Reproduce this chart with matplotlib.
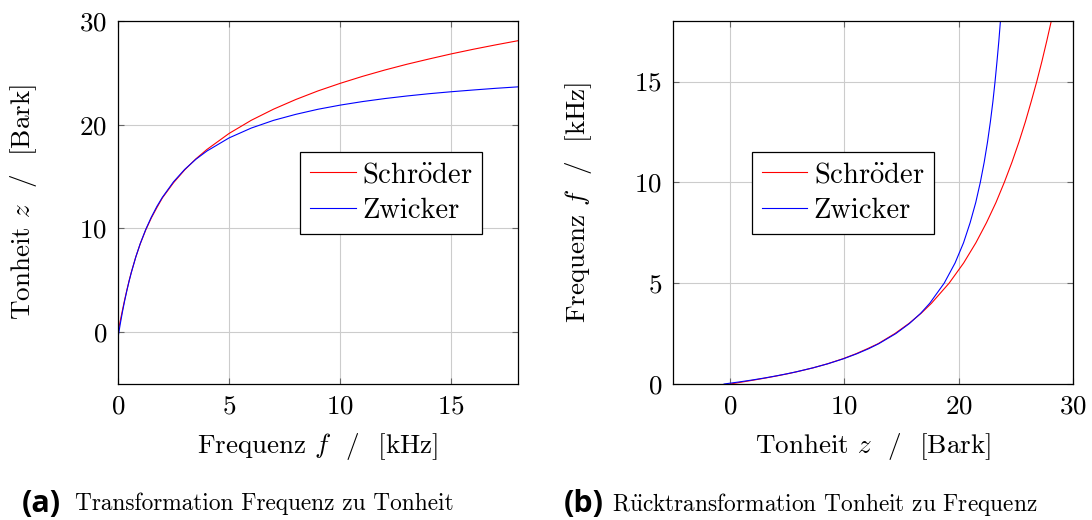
import matplotlib
matplotlib.use("Agg")
import matplotlib.pyplot as plt

# Frequenz f in kHz and the matching Tonheit z in Bark for both scales
freq_khz = [0, 0.1, 0.2, 0.3, 0.4, 0.5, 0.6, 0.8, 1.0, 1.25, 1.5, 1.75, 2, 2.5, 3,
            3.5, 4, 5, 6, 7, 8, 9, 10, 11, 12, 13, 14, 15, 16, 17, 18]
z_schroeder = [0.00, 1.07, 2.12, 3.13, 4.07, 4.96, 5.78, 7.25, 8.51, 9.86, 11.01,
               12.01, 12.95, 14.41, 15.64, 16.70, 17.61, 19.16, 20.43, 21.50, 22.43,
               23.26, 23.99, 24.66, 25.27, 25.83, 26.34, 26.83, 27.28, 27.70, 28.10]
z_zwicker = [-0.53, 0.77, 1.95, 3.03, 4.01, 4.92, 5.75, 7.24, 8.53, 9.91, 11.09,
             12.12, 13.01, 14.50, 15.69, 16.66, 17.46, 18.73, 19.68, 20.42, 21.00,
             21.49, 21.89, 22.23, 22.52, 22.77, 22.99, 23.18, 23.35, 23.51, 23.65]

series_names = [r"Schr$\ddot{\mathrm{o}}$der", "Zwicker"]
series_colors = ["#ff0000", "#0000ff"]

left_xticks = [0, 5, 10, 15]
left_yticks = [0, 10, 20, 30]
right_xticks = [0, 10, 20, 30]
right_yticks = [0, 5, 10, 15]

FS = 19.5
LEG_FS = 20.5

plt.rcParams.update({
    "font.family": ["cmr10", "DejaVu Serif"],
    "mathtext.fontset": "cm",
    "axes.formatter.use_mathtext": True,
    "axes.unicode_minus": False,
    "font.size": FS,
})

fig = plt.figure(figsize=(10.92, 5.2), dpi=100)
ax1 = fig.add_axes([118 / 1092, 136 / 520, 400 / 1092, 363 / 520])
ax2 = fig.add_axes([673 / 1092, 136 / 520, 400 / 1092, 363 / 520])


def style_axes(ax, ylab_x):
    ax.grid(True, color="#cccccc", linewidth=0.8)
    ax.set_axisbelow(True)
    for sp in ax.spines.values():
        sp.set_linewidth(0.9)
        sp.set_color("black")
    ax.tick_params(direction="in", length=4.5, width=0.8, color="#666666",
                   top=True, right=True, labelsize=FS, pad=8)
    ax.xaxis.label.set_va("center")
    ax.yaxis.label.set_va("center")
    ax.xaxis.set_label_coords(0.5, -0.172)
    ax.yaxis.set_label_coords(ylab_x, 0.5)


# Frequenz -> Tonheit
for z, name, col in zip([z_schroeder, z_zwicker], series_names, series_colors):
    ax1.plot(freq_khz, z, color=col, linewidth=0.8, label=name)
ax1.set_xlim(0, 18)
ax1.set_ylim(-5, 30)
ax1.set_xticks(left_xticks)
ax1.set_yticks(left_yticks)
ax1.set_xlabel(r"Frequenz $f$  /  [kHz]", fontsize=FS)
ax1.set_ylabel(r"Tonheit $z$  /  [Bark]", fontsize=FS)
style_axes(ax1, (24 - 118) / 400)

# Tonheit -> Frequenz
for z, name, col in zip([z_schroeder, z_zwicker], series_names, series_colors):
    ax2.plot(z, freq_khz, color=col, linewidth=0.8, label=name)
ax2.set_xlim(-5, 30)
ax2.set_ylim(0, 18)
ax2.set_xticks(right_xticks)
ax2.set_yticks(right_yticks)
ax2.set_xlabel(r"Tonheit $z$  /  [Bark]", fontsize=FS)
ax2.set_ylabel(r"Frequenz $f$  /  [kHz]", fontsize=FS)
style_axes(ax2, (578 - 673) / 400)

legend_kw = dict(fontsize=LEG_FS, frameon=True, fancybox=False, framealpha=1,
                 edgecolor="black", handlelength=1.6, handletextpad=0.22,
                 borderpad=0.34, labelspacing=0.34, borderaxespad=0)
leg1 = ax1.legend(loc="upper right", bbox_to_anchor=((482 - 118) / 400, (384 - 152) / 363),
                  **legend_kw)
leg2 = ax2.legend(loc="upper left", bbox_to_anchor=((752 - 673) / 400, (384 - 152) / 363),
                  **legend_kw)
for leg in (leg1, leg2):
    leg.get_frame().set_linewidth(0.9)

# Sub-captions
cap_y = 1 - 504 / 520
fig.text(22 / 1092, cap_y, "(a)", family="Open Sans", weight="bold",
         fontsize=22, va="center", ha="left")
fig.text(75 / 1092, cap_y, "Transformation Frequenz zu Tonheit",
         fontsize=16.8, va="center", ha="left")
fig.text(564 / 1092, cap_y, "(b)", family="Open Sans", weight="bold",
         fontsize=22, va="center", ha="left")
fig.text(612 / 1092, cap_y, r"R$\ddot{\mathrm{u}}$cktransformation Tonheit zu Frequenz",
         fontsize=16.8, va="center", ha="left")

fig.savefig("out.png", dpi=100, facecolor="white")
